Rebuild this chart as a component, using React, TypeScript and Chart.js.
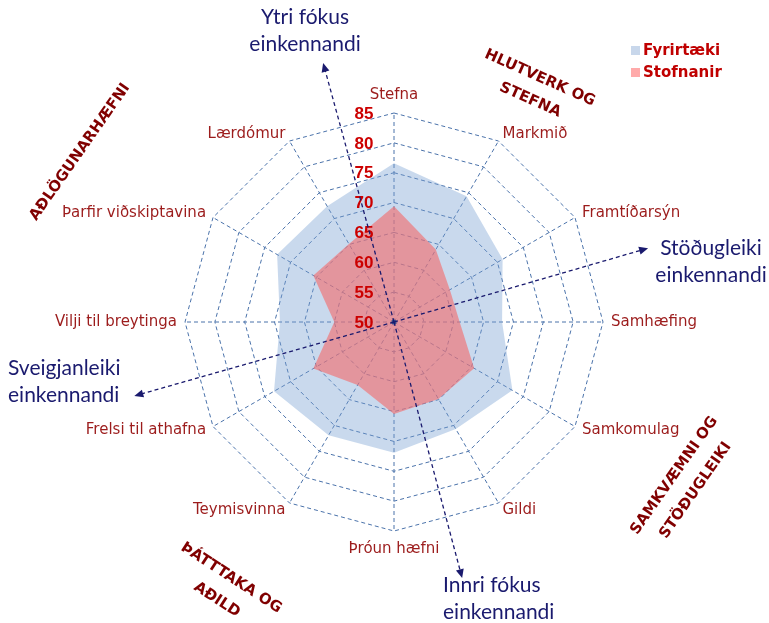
import React, { useEffect, useRef } from "react";
import { Chart, registerables } from "chart.js";
Chart.register(...registerables);

const categories = [
  "Stefna",
  "Markmið",
  "Framtíðarsýn",
  "Samhæfing",
  "Samkomulag",
  "Gildi",
  "Þróun hæfni",
  "Teymisvinna",
  "Frelsi til athafna",
  "Vilji til breytinga",
  "Þarfir viðskiptavina",
  "Lærdómur",
];
const seriesNames = ["Fyrirtæki", "Stofnanir"];
const fyrirtaeki = [76.6, 74.3, 71.0, 68.1, 72.9, 70.7, 71.9, 71.9, 73.2, 69.1, 72.6, 72.4];
const stofnanir = [69.4, 64.0, 60.8, 61.0, 65.5, 64.9, 65.4, 62.2, 65.6, 60.0, 65.6, 65.1];
const tickValues = [50, 55, 60, 65, 70, 75, 80, 85];

const BLUE_FILL = "rgba(120,160,210,0.40)";
const RED_FILL = "rgba(245,105,105,0.60)";
const LEGEND_COLORS = ["#C8D7EB", "#FFAAAA"];
const GRID = "#4A72AA";
const NAVY = "#1A1A6E";
const DARKRED = "#800000";

// axis arrows: angle (deg, canvas coords), length as multiple of radius, label lines, label anchor
const arrows = [
  { angle: -105.3, len: 1.285, lines: ["Ytri fókus", "einkennandi"], x: 305, y: 17, align: "center" },
  { angle: 75.1, len: 1.268, lines: ["Innri fókus", "einkennandi"], x: 443, y: 585, align: "left" },
  { angle: -16.2, len: 1.266, lines: ["Stöðugleiki", "einkennandi"], x: 711, y: 248, align: "center" },
  { angle: 164.1, len: 1.292, lines: ["Sveigjanleiki", "einkennandi"], x: 8, y: 368, align: "left" },
];

const cornerLabels = [
  { lines: ["HLUTVERK OG", "STEFNA"], x: 535, y: 89, rot: 24, gap: 24 },
  { lines: ["AÐLÖGUNARHÆFNI"], x: 80, y: 152, rot: -55, gap: 0 },
  { lines: ["SAMKVÆMNI OG", "STÖÐUGLEIKI"], x: 685, y: 483, rot: -55, gap: 26 },
  { lines: ["ÞÁTTTAKA OG", "AÐILD"], x: 224, y: 589, rot: 33, gap: 26 },
];

const overlayPlugin = {
  id: "overlay",
  afterDatasetsDraw(chart: any) {
    const s = chart.scales.r;
    const ctx = chart.ctx as CanvasRenderingContext2D;
    const cx = s.xCenter;
    const cy = s.yCenter;
    const R = s.drawingArea;
    ctx.save();

    // center dot
    ctx.fillStyle = "#2F4F8F";
    ctx.beginPath();
    ctx.arc(cx, cy, 2.5, 0, Math.PI * 2);
    ctx.fill();

    // point labels
    ctx.font = '15px "DejaVu Sans"';
    ctx.fillStyle = "#9C1C1C";
    ctx.textBaseline = "middle";
    categories.forEach((c, i) => {
      const ang = s.getIndexAngle(i);
      const p = s.getPointPosition(i, R + 8);
      const sn = Math.sin(ang);
      const cs = Math.cos(ang);
      let align: CanvasTextAlign = "center";
      if (sn > 0.1) align = "left";
      else if (sn < -0.1) align = "right";
      let y = p.y;
      if (Math.abs(sn) < 0.1) y += cs > 0 ? -10 : 10;
      ctx.textAlign = align;
      ctx.fillText(c, p.x, y);
    });

    // tick labels
    ctx.font = 'bold 17px "Liberation Sans"';
    ctx.fillStyle = "#CC0000";
    ctx.textAlign = "center";
    tickValues.forEach((v) => {
      const d = s.getDistanceFromCenterForValue(v);
      ctx.fillText(String(v), cx - 30, cy - d + 1);
    });

    // arrows
    ctx.strokeStyle = NAVY;
    ctx.fillStyle = NAVY;
    ctx.lineWidth = 1.3;
    arrows.forEach((a) => {
      const t = (a.angle * Math.PI) / 180;
      const L = a.len * R;
      const ex = cx + Math.cos(t) * L;
      const ey = cy + Math.sin(t) * L;
      ctx.setLineDash([4, 3]);
      ctx.beginPath();
      ctx.moveTo(cx, cy);
      ctx.lineTo(ex - Math.cos(t) * 6, ey - Math.sin(t) * 6);
      ctx.stroke();
      ctx.setLineDash([]);
      const hx = -Math.sin(t);
      const hy = Math.cos(t);
      ctx.beginPath();
      ctx.moveTo(ex, ey);
      ctx.lineTo(ex - Math.cos(t) * 9 + hx * 4, ey - Math.sin(t) * 9 + hy * 4);
      ctx.lineTo(ex - Math.cos(t) * 9 - hx * 4, ey - Math.sin(t) * 9 - hy * 4);
      ctx.closePath();
      ctx.fill();
    });

    ctx.font = '21px Lato';
    ctx.fillStyle = NAVY;
    ctx.textBaseline = "middle";
    arrows.forEach((a) => {
      ctx.textAlign = a.align as CanvasTextAlign;
      a.lines.forEach((l, k) => ctx.fillText(l, a.x, a.y + k * 27));
    });

    // corner labels
    ctx.font = 'bold 15px "DejaVu Sans"';
    ctx.fillStyle = DARKRED;
    ctx.textAlign = "center";
    ctx.textBaseline = "middle";
    cornerLabels.forEach((c) => {
      ctx.save();
      ctx.translate(c.x, c.y);
      ctx.rotate((c.rot * Math.PI) / 180);
      const n = c.lines.length;
      c.lines.forEach((l, k) => ctx.fillText(l, 0, (k - (n - 1) / 2) * c.gap));
      ctx.restore();
    });

    // legend
    ctx.font = 'bold 15px "DejaVu Sans"';
    ctx.textAlign = "left";
    seriesNames.forEach((name, k) => {
      const y = 51 + k * 22;
      ctx.fillStyle = LEGEND_COLORS[k];
      ctx.fillRect(631, y - 5, 9, 9);
      ctx.fillStyle = "#C00000";
      ctx.fillText(name, 643, y);
    });

    ctx.restore();
  },
};

export default function App() {
  const ref = useRef<HTMLCanvasElement>(null);
  useEffect(() => {
    if (!ref.current) return;
    const chart = new Chart(ref.current, {
      type: "radar",
      data: {
        labels: categories,
        datasets: [
          {
            label: seriesNames[0],
            data: fyrirtaeki,
            backgroundColor: BLUE_FILL,
            borderWidth: 0,
            pointRadius: 0,
            fill: true,
            order: 2,
          },
          {
            label: seriesNames[1],
            data: stofnanir,
            backgroundColor: RED_FILL,
            borderWidth: 0,
            pointRadius: 0,
            fill: true,
            order: 1,
          },
        ],
      },
      options: {
        responsive: false,
        animation: false,
        layout: { padding: { left: 185, top: 113, right: 166, bottom: 92 } },
        plugins: { legend: { display: false }, tooltip: { enabled: false } },
        elements: { line: { tension: 0 } },
        scales: {
          r: {
            min: 50,
            max: 85,
            ticks: { display: false, stepSize: 5 },
            pointLabels: { display: false },
            grid: { color: GRID, lineWidth: 1, circular: false },
            border: { dash: [4, 3] },
            angleLines: { color: GRID, lineWidth: 1, borderDash: [4, 3] },
          },
        },
      },
      plugins: [overlayPlugin],
    });
    return () => chart.destroy();
  }, []);
  return (
    <div style={{ position: "absolute", left: 0, top: 0, width: 769, height: 623, background: "#fff" }}>
      <canvas ref={ref} width={769} height={623} />
    </div>
  );
}
